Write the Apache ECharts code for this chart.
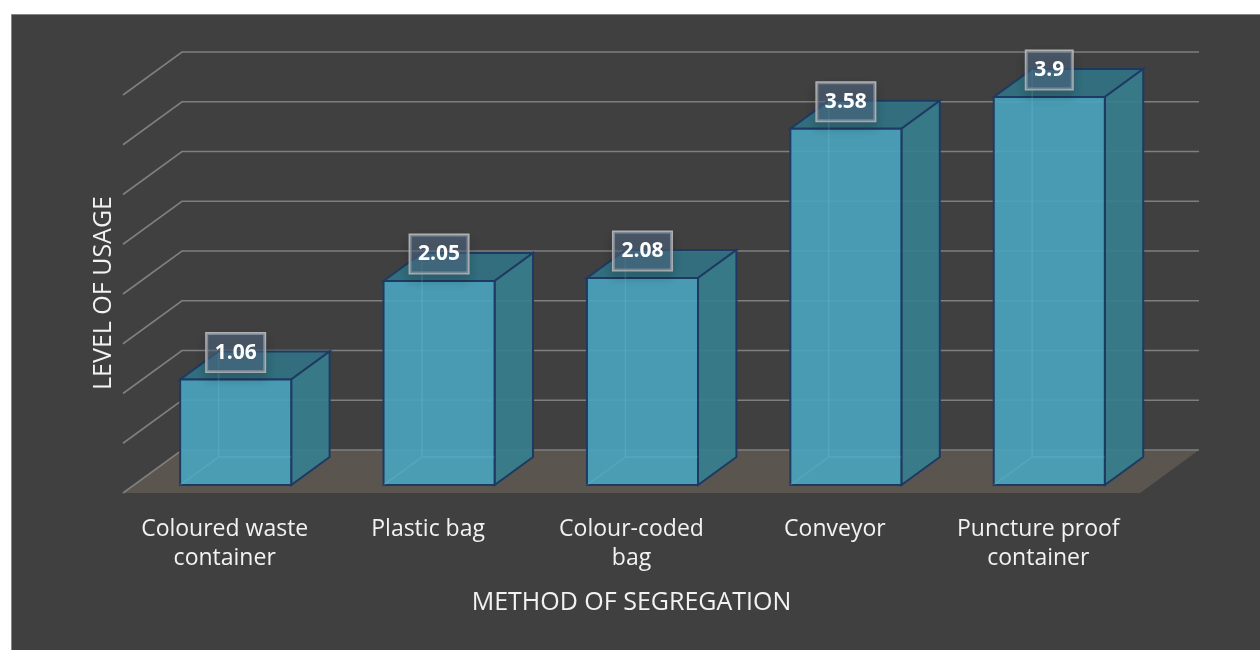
<!DOCTYPE html>
<html>
<head>
<meta charset="utf-8">
<script src="https://cdn.jsdelivr.net/npm/echarts@6/dist/echarts.min.js"></script>
<style>
html,body{margin:0;padding:0;background:#ffffff;}
#chart{width:1260px;height:650px;}
</style>
</head>
<body>
<div id="chart"></div>
<script>
const categories = ['Coloured waste container', 'Plastic bag', 'Colour-coded bag', 'Conveyor', 'Puncture proof container'];
const usage = [1.06, 2.05, 2.08, 3.58, 3.9];
const usageLabels = ['1.06', '2.05', '2.08', '3.58', '3.9'];
const yTicks = [0, 0.5, 1, 1.5, 2, 2.5, 3, 3.5, 4];
const xTitle = 'METHOD OF SEGREGATION';
const yTitle = 'LEVEL OF USAGE';

const FONT = "'Open Sans', 'DejaVu Sans', sans-serif";
const T1 = 8 / 43, T2 = 36 / 43;

function depth(cw) { return { dx: 0.29 * cw, dy: 0.2114 * cw }; }

const chart = echarts.init(document.getElementById('chart'), null, { renderer: 'canvas' });

const option = {
  backgroundColor: '#ffffff',
  animation: false,
  graphic: [
    { type: 'rect', z: -10, silent: true,
      shape: { x: 11.5, y: 14.5, width: 1260, height: 650 },
      style: { fill: '#404040', stroke: '#858585', lineWidth: 1 } },
    { type: 'text', z: 50, silent: true, x: 104, y: 293, rotation: Math.PI / 2,
      style: { text: yTitle, fill: '#f2f2f2', font: '25px ' + FONT, align: 'center', verticalAlign: 'middle' } },
    { type: 'text', z: 50, silent: true, x: 631.5, y: 603,
      style: { text: xTitle, fill: '#f2f2f2', font: '25px ' + FONT, align: 'center', verticalAlign: 'middle' } }
  ],
  grid: { left: 123, right: 120, top: 87, bottom: 165 },
  xAxis: {
    type: 'category', data: categories,
    axisLine: { show: false }, axisTick: { show: false }, splitLine: { show: false },
    axisLabel: {
      interval: 0, margin: 30, fontSize: 23, lineHeight: 29, color: '#f2f2f2', fontFamily: FONT,
      formatter: function (s) {
        if (s.length > 12) { const k = s.lastIndexOf(' '); return s.slice(0, k) + '\n' + s.slice(k + 1); }
        return s;
      }
    }
  },
  yAxis: { type: 'value', min: 0, max: 4, interval: 0.5, show: false },
  series: [
    {
      type: 'custom', name: 'frame', z: 1, silent: true,
      data: yTicks.map(v => [0, v]),
      encode: { x: 0, y: 1 },
      renderItem: function (params, api) {
        const cs = params.coordSys;
        const cw = api.size([1, 0])[0];
        const d = depth(cw);
        const v = api.value(1);
        const y = api.coord([0, v])[1];
        const yf = y + d.dy * T1;
        const yb = yf - d.dy;
        const children = [];
        if (params.dataIndex === 0) {
          children.push({ type: 'polygon', shape: { points: [[cs.x, yf], [cs.x + d.dx, yb], [cs.x + cs.width + d.dx, yb], [cs.x + cs.width, yf]] },
            style: { fill: '#5a564f' } });
        }
        children.push({ type: 'polyline', shape: { points: [[cs.x, yf], [cs.x + d.dx, yb], [cs.x + cs.width + d.dx, yb]] },
          style: { stroke: '#7f7f7f', lineWidth: 1.6, fill: null } });
        return { type: 'group', children: children };
      }
    },
    {
      type: 'custom', name: 'Level of usage', z: 3, silent: true,
      data: usage.map((v, i) => [i, v]),
      encode: { x: 0, y: 1 },
      renderItem: function (params, api) {
        const i = api.value(0), v = api.value(1);
        const cw = api.size([1, 0])[0];
        const d = depth(cw);
        const c = api.coord([i, v]);
        const b = api.coord([i, 0]);
        const cx = c[0] + d.dx * T1;
        const bw = 0.546 * cw;
        const xl = cx - bw / 2, xr = cx + bw / 2, yt = c[1], yb = b[1];
        const bx = d.dx * (T2 - T1), by = -d.dy * (T2 - T1);
        const edge = '#1f3a62';
        return {
          type: 'group',
          children: [
            { type: 'polygon', shape: { points: [[xl, yt], [xr, yt], [xr + bx, yt + by], [xl + bx, yt + by]] },
              style: { fill: 'rgba(49,114,130,0.93)', stroke: edge, lineWidth: 2 } },
            { type: 'polygon', shape: { points: [[xr, yt], [xr + bx, yt + by], [xr + bx, yb + by], [xr, yb]] },
              style: { fill: 'rgba(56,126,142,0.93)', stroke: edge, lineWidth: 2 } },
            { type: 'rect', shape: { x: xl, y: yt, width: bw, height: yb - yt },
              style: { fill: 'rgba(74,162,188,0.93)', stroke: edge, lineWidth: 2 } },
            { type: 'polyline', shape: { points: [[xl, yb], [xl + bx, yb + by], [xl + bx, yt + by]] },
              style: { stroke: 'rgba(120,200,225,0.22)', lineWidth: 1.5, fill: null } },
            { type: 'line', shape: { x1: xl + bx, y1: yb + by, x2: xr, y2: yb + by },
              style: { stroke: 'rgba(120,200,225,0.22)', lineWidth: 1.5 } },
            { type: 'text', z2: 10,
              style: { text: usageLabels[i], x: cx, y: yt - 27, align: 'center', verticalAlign: 'middle',
                fill: '#ffffff', font: 'bold 21px ' + FONT, lineHeight: 24,
                backgroundColor: 'rgba(82,108,135,0.55)', borderColor: 'rgba(200,200,200,0.85)', borderWidth: 1.5,
                padding: [7, 8, 7, 8],
                shadowBlur: 10, shadowColor: 'rgba(0,0,0,0.22)', shadowOffsetY: 6 } }
          ]
        };
      }
    }
  ]
};
chart.setOption(option);
</script>
</body>
</html>
